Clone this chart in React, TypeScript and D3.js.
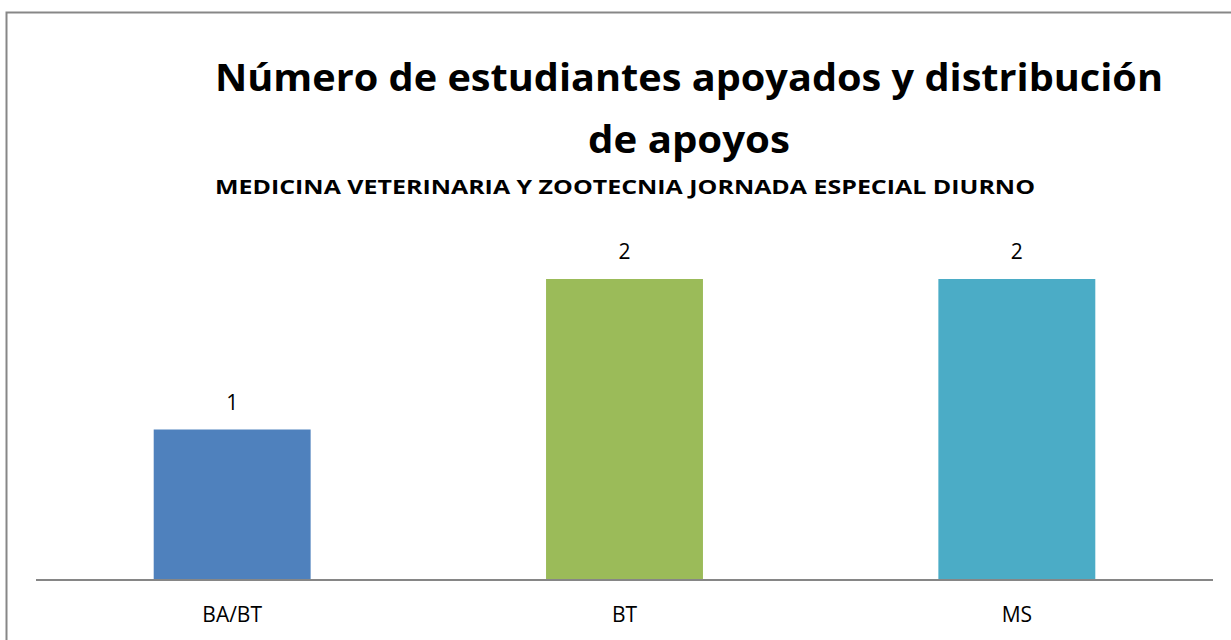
import React from "react";
import * as d3 from "d3";

const categories = ["BA/BT", "BT", "MS"];
const values = [1, 2, 2];
const colors = ["#4F81BD", "#9BBB59", "#4BACC6"];
const titleLines = ["Número de estudiantes apoyados y distribución", "de apoyos"];
const subtitle = "MEDICINA VETERINARIA Y ZOOTECNIA JORNADA ESPECIAL DIURNO";

export default function App() {
  const W = 1231, H = 640;
  const x = d3.scaleBand<string>().domain(categories).range([36, 1213]).paddingInner(0.6).paddingOuter(0.3);
  const y = d3.scaleLinear().domain([0, 2]).range([580, 279]);
  const font = "'Open Sans', sans-serif";
  const titleLens = [948, 202];
  return (
    <svg width={W} height={H} style={{ position: "absolute", left: 0, top: 0 }}>
      <rect x={0} y={0} width={W} height={H} fill="#fff" />
      <rect x={6.5} y={12.5} width={W + 20} height={H + 20} fill="none" stroke="#878787" strokeWidth={2} />
      {titleLines.map((t, i) => (
        <text key={i} x={689} y={91 + i * 62} textAnchor="middle" fontFamily={font} fontWeight="bold" fontSize={38}
          textLength={titleLens[i]} lengthAdjust="spacingAndGlyphs" fill="#000">{t}</text>
      ))}
      <text x={625} y={194} textAnchor="middle" fontFamily={font} fontWeight="bold" fontSize={19}
        textLength={820} lengthAdjust="spacingAndGlyphs" fill="#000">{subtitle}</text>
      {categories.map((c, i) => (
        <g key={c}>
          <rect x={x(c)} y={y(values[i])} width={x.bandwidth()} height={580 - y(values[i])} fill={colors[i]} />
          <text x={x(c)! + x.bandwidth() / 2} y={y(values[i]) - 20} textAnchor="middle" fontFamily={font} fontSize={21} fill="#000">{values[i]}</text>
          <text x={x(c)! + x.bandwidth() / 2} y={622} textAnchor="middle" fontFamily={font} fontSize={21} fill="#000">{c}</text>
        </g>
      ))}
      <line x1={36} x2={1213} y1={580} y2={580} stroke="#868686" strokeWidth={2} />
    </svg>
  );
}
